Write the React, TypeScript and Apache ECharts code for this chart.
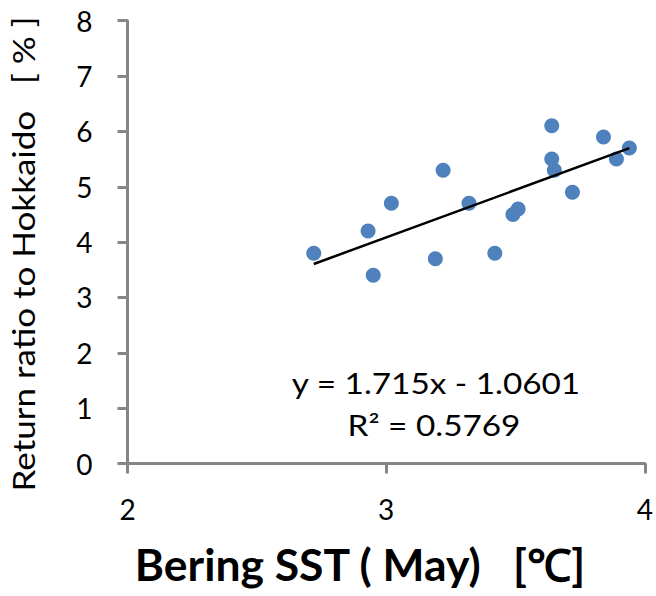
import React, { useEffect, useRef } from "react";
import * as echarts from "echarts";

// Bering Sea surface temperature in May (°C) against return ratio to Hokkaido (%)
const sstMay: number[] = [
  2.72, 2.93, 2.95, 3.02, 3.22, 3.19, 3.32, 3.42, 3.49, 3.51, 3.64, 3.64, 3.65,
  3.72, 3.84, 3.89, 3.94,
];
const returnRatio: number[] = [
  3.8, 4.2, 3.4, 4.7, 5.3, 3.7, 4.7, 3.8, 4.5, 4.6, 6.1, 5.5, 5.3, 4.9, 5.9,
  5.5, 5.7,
];

// Linear fit reported on the chart
const slope = 1.715;
const intercept = -1.0601;
const rSquared = 0.5769;

const xTicks: number[] = [2, 3, 4];
const yTicks: number[] = [0, 1, 2, 3, 4, 5, 6, 7, 8];

const xTitle = "Bering SST ( May)   [℃]";
const yTitle = "Return ratio to Hokkaido   [ % ]";

const FONT = "Lato, 'Open Sans', 'Liberation Sans', sans-serif";
const AXIS_GREY = "#868686";
const DOT_BLUE = "#4F81BD";

export default function App() {
  const ref = useRef<HTMLDivElement>(null);

  useEffect(() => {
    if (!ref.current) return;
    const chart = echarts.init(ref.current, undefined, { renderer: "svg" });

    const points = sstMay.map((x, i) => [x, returnRatio[i]]);
    const xMin = Math.min(...sstMay);
    const xMax = Math.max(...sstMay);
    const fitLine = [
      [xMin, slope * xMin + intercept],
      [xMax, slope * xMax + intercept],
    ];

    const eqText = `y = ${slope}x - ${Math.abs(intercept)}`;
    const r2Text = `R² = ${rSquared}`;

    chart.setOption({
      animation: false,
      backgroundColor: "#ffffff",
      grid: { left: 127.5, right: 4, top: 20.7, bottom: 132.5 },
      xAxis: {
        type: "value",
        min: xTicks[0],
        max: xTicks[xTicks.length - 1],
        interval: 1,
        axisLine: { show: true, lineStyle: { color: AXIS_GREY, width: 3 } },
        axisTick: {
          show: true,
          inside: false,
          length: 10,
          lineStyle: { color: AXIS_GREY, width: 3 },
        },
        axisLabel: {
          color: "#000",
          fontFamily: FONT,
          fontSize: 28,
          margin: 31,
          showMinLabel: true,
          showMaxLabel: true,
        },
        splitLine: { show: false },
      },
      yAxis: {
        type: "value",
        min: yTicks[0],
        max: yTicks[yTicks.length - 1],
        interval: 1,
        axisLine: { show: true, lineStyle: { color: AXIS_GREY, width: 3 } },
        axisTick: {
          show: true,
          inside: false,
          length: 10,
          lineStyle: { color: AXIS_GREY, width: 3 },
        },
        axisLabel: {
          color: "#000",
          fontFamily: FONT,
          fontSize: 28,
          margin: 35,
        },
        splitLine: { show: false },
      },
      series: [
        {
          type: "line",
          data: fitLine,
          symbol: "none",
          lineStyle: { color: "#000", width: 2.5 },
          z: 3,
          silent: true,
        },
        {
          type: "scatter",
          data: points,
          symbol: "circle",
          symbolSize: 15,
          itemStyle: { color: DOT_BLUE, opacity: 1 },
          z: 2,
        },
      ],
      graphic: [
        {
          type: "text",
          x: 360,
          y: 564,
          scaleX: 1.01,
          style: {
            text: xTitle,
            fontFamily: FONT,
            fontWeight: "bold",
            fontSize: 44,
            fill: "#000",
            align: "center",
            verticalAlign: "middle",
          },
        },
        {
          type: "text",
          x: 23,
          y: 254,
          rotation: Math.PI / 2,
          scaleX: 1.13,
          style: {
            text: yTitle,
            fontFamily: FONT,
            fontSize: 31,
            fill: "#000",
            align: "center",
            verticalAlign: "middle",
          },
        },
        {
          type: "text",
          x: 436,
          y: 384,
          scaleX: 1.19,
          style: {
            text: eqText,
            fontFamily: FONT,
            fontSize: 28,
            fill: "#000",
            align: "center",
            verticalAlign: "middle",
          },
        },
        {
          type: "text",
          x: 434,
          y: 426,
          scaleX: 1.19,
          style: {
            text: r2Text,
            fontFamily: FONT,
            fontSize: 28,
            fill: "#000",
            align: "center",
            verticalAlign: "middle",
          },
        },
      ],
    });

    return () => chart.dispose();
  }, []);

  return (
    <div
      ref={ref}
      style={{ position: "absolute", left: 0, top: 0, width: 656, height: 596 }}
    />
  );
}
